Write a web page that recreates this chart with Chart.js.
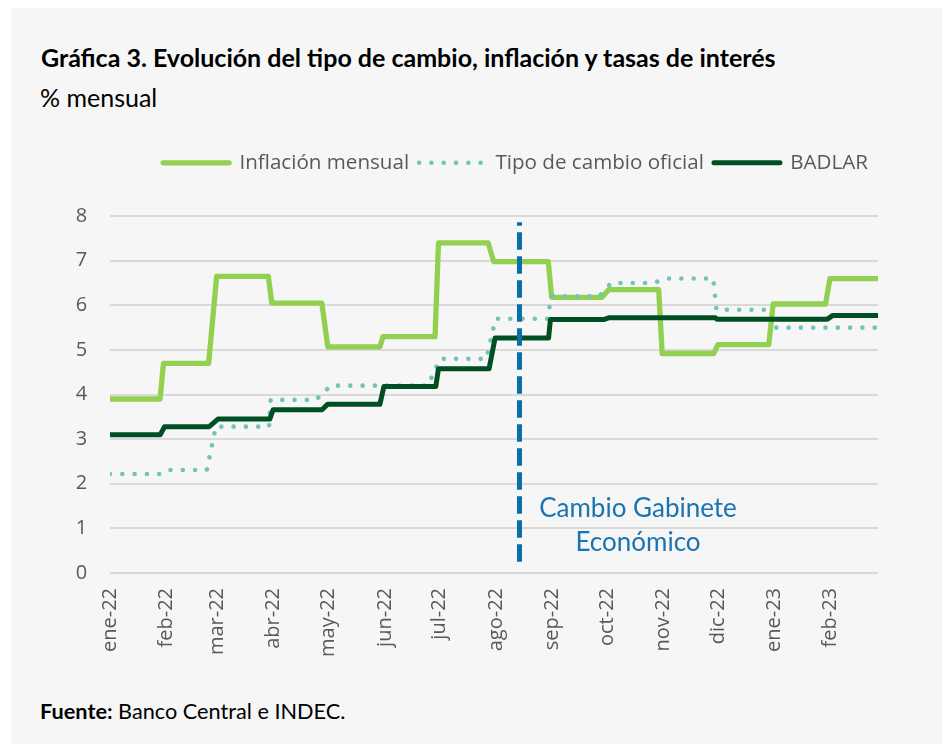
<!DOCTYPE html>
<html><head><meta charset="utf-8">
<script src="https://cdn.jsdelivr.net/npm/chart.js@4.4.1/dist/chart.umd.min.js"></script>
<style>
html,body{margin:0;padding:0;background:#fff;width:947px;height:744px;overflow:hidden;position:relative;}
#panel{position:absolute;left:11px;top:8px;width:931px;height:736px;background:#f6f6f6;}
.t{position:absolute;white-space:nowrap;line-height:1;}
#title{left:41px;top:42px;font:700 25px Lato,sans-serif;color:#000;}
#sub{left:40px;top:82px;font:400 25px Lato,sans-serif;color:#000;}
#foot{left:40px;top:698px;font:400 21.7px Lato,sans-serif;color:#000;}
#ann{left:528px;top:490px;width:220px;text-align:center;font:400 26px Lato,sans-serif;color:#1a74b1;line-height:34px;}
#wrap{position:absolute;left:0;top:130px;width:947px;height:560px;}
</style></head>
<body>
<div id="panel"></div>
<div class="t" id="title">Gráfica 3. Evolución del tipo de cambio, inflación y tasas de interés</div>
<div class="t" id="sub">% mensual</div>
<div id="wrap"><canvas id="c" width="947" height="560"></canvas></div>
<div class="t" id="ann">Cambio Gabinete<br>Económico</div>
<div class="t" id="foot"><b>Fuente:</b> Banco Central e INDEC.</div>
<script>
// Eje X: días desde el 1-ene-2022, etiquetas mensuales
const meses = ['ene-22','feb-22','mar-22','abr-22','may-22','jun-22','jul-22','ago-22','sep-22','oct-22','nov-22','dic-22','ene-23','feb-23'];
const diasMes = [0,31,59,90,120,151,181,212,243,273,304,334,365,396];
const diaFinal = 422;
const yTicks = [0,1,2,3,4,5,6,7,8];

// Inflación mensual (vértices de la serie escalonada)
const inflacionDias    = [0,27.5,29.4,54.2,58.6,87,88.9,116.4,119.7,148.3,150,178.6,180.5,207.8,210.8,240.8,242.7,270.3,274,301.5,303.4,331.8,334,362,364.4,393.2,395.6,422];
const inflacionValores = [3.9,3.9,4.7,4.7,6.65,6.65,6.05,6.05,5.07,5.07,5.3,5.3,7.4,7.4,6.98,6.98,6.18,6.18,6.35,6.35,4.92,4.92,5.12,5.12,6.03,6.03,6.6,6.6];

// Tipo de cambio oficial
const tcDias    = [0,27.5,31.6,53.2,58.1,87.4,88.3,113.2,121.3,174.7,181.4,206.8,211.9,240.5,242.4,268.8,275.4,298,306.8,331.5,333.2,360.7,364.6,422];
const tcValores = [2.22,2.22,2.31,2.31,3.28,3.28,3.88,3.88,4.2,4.2,4.8,4.8,5.7,5.7,6.2,6.2,6.5,6.5,6.6,6.6,5.9,5.9,5.5,5.5];

// BADLAR
const badlarDias    = [0,27.6,30,54.5,59.3,87.8,89.6,116.5,119.5,148.3,150.5,179,180.5,208.3,211.6,241,242,271.2,274,332.7,333.5,394.2,397,422];
const badlarValores = [3.1,3.1,3.28,3.28,3.45,3.45,3.66,3.66,3.78,3.78,4.18,4.18,4.58,4.58,5.27,5.27,5.68,5.68,5.72,5.72,5.69,5.69,5.77,5.77];

// Cambio de gabinete económico (línea vertical)
const gabineteDia = 225;
const gabineteRango = [0.25, 7.86];

const pts = (xs, ys) => xs.map((x, i) => ({x: x, y: ys[i]}));

const legendSpacer = {
  id: 'legendSpacer',
  afterInit(chart) {
    const lg = chart.legend;
    const f = lg.fit;
    lg.fit = function () { f.call(this); this.height += 33; };
  }
};

new Chart(document.getElementById('c'), {
  type: 'line',
  data: {
    datasets: [
      {label: 'gabinete', data: [{x: gabineteDia, y: gabineteRango[0]}, {x: gabineteDia, y: gabineteRango[1]}],
       borderColor: '#0a6fa8', borderWidth: 5, borderDash: [17.7, 6.3], borderCapStyle: 'butt', pointRadius: 0},
      {label: 'BADLAR', data: pts(badlarDias, badlarValores), borderColor: '#004f22', backgroundColor: '#004f22',
       borderWidth: 5, borderCapStyle: 'round', borderJoinStyle: 'round', pointRadius: 0},
      {label: 'Tipo de cambio oficial', data: pts(tcDias, tcValores), borderColor: '#72c5b3', backgroundColor: '#72c5b3',
       borderWidth: 4.6, borderDash: [0.001, 12.3], borderCapStyle: 'round', borderJoinStyle: 'round', pointRadius: 0},
      {label: 'Inflación mensual', data: pts(inflacionDias, inflacionValores), borderColor: '#92d050', backgroundColor: '#92d050',
       borderWidth: 5.3, borderCapStyle: 'round', borderJoinStyle: 'round', pointRadius: 0}
    ]
  },
  options: {
    responsive: false,
    animation: false,
    devicePixelRatio: 1,
    layout: {padding: {top: 12.5, right: 69, bottom: 0, left: 0}},
    plugins: {
      tooltip: {enabled: false},
      legend: {
        position: 'top', align: 'end',
        labels: {
          usePointStyle: true, pointStyle: 'line', pointStyleWidth: 66,
          color: '#595959', padding: 10,
          font: {family: "'Open Sans'", size: 20.6},
          filter: (item) => item.datasetIndex !== 0,
          sort: (a, b) => b.datasetIndex - a.datasetIndex,
          generateLabels: (chart) => {
            const items = Chart.defaults.plugins.legend.labels.generateLabels(chart);
            items.forEach((it) => {
              const ds = chart.data.datasets[it.datasetIndex];
              it.lineDash = ds.borderDash || [];
              it.lineCap = ds.borderCapStyle || 'butt';
              it.lineWidth = ds.borderWidth;
              it.strokeStyle = ds.borderColor;
              it.fillStyle = ds.borderColor;
            });
            return items;
          }
        }
      }
    },
    scales: {
      x: {
        type: 'linear', min: 0, max: diaFinal,
        afterBuildTicks: (s) => { s.ticks = diasMes.map(v => ({value: v})); },
        afterFit: (s) => { s.height = 117; },
        grid: {display: false, drawTicks: false},
        border: {display: false},
        ticks: {
          autoSkip: false, minRotation: 90, maxRotation: 90, padding: 15,
          color: '#595959', font: {family: "'Open Sans'", size: 20},
          callback: (v) => meses[diasMes.indexOf(v)]
        }
      },
      y: {
        min: 0, max: 8,
        afterBuildTicks: (s) => { s.ticks = yTicks.map(v => ({value: v})); },
        afterFit: (s) => { s.width = 110; },
        grid: {color: '#d9d9d9', lineWidth: 2, drawTicks: false},
        border: {display: false},
        ticks: {padding: 22.7, color: '#595959', font: {family: "'Open Sans'", size: 20}}
      }
    }
  },
  plugins: [legendSpacer]
});
</script>
</body></html>
